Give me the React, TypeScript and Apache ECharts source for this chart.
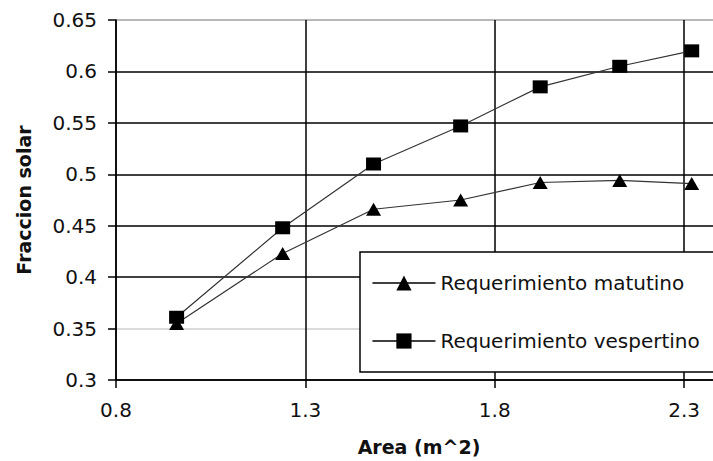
import React, { useEffect, useRef } from "react";
import * as echarts from "echarts";

const areaValues = [0.96, 1.24, 1.48, 1.71, 1.92, 2.13, 2.32];
const matutino = [0.355, 0.423, 0.466, 0.475, 0.492, 0.494, 0.491];
const vespertino = [0.361, 0.448, 0.51, 0.547, 0.585, 0.605, 0.62];
const seriesNames = ["Requerimiento matutino", "Requerimiento vespertino"];
const xAxisName = "Area (m^2)";
const yAxisName = "Fraccion solar";
const xMin = 0.8;
const xMax = 2.4;
const xStep = 0.5;
const yMin = 0.3;
const yMax = 0.65;
const yStep = 0.05;

const FONT = "DejaVu Sans";

export default function App() {
  const ref = useRef<HTMLDivElement>(null);
  useEffect(() => {
    if (!ref.current) return;
    const chart = echarts.init(ref.current, undefined, { renderer: "svg" });
    const axisLine = { show: true, lineStyle: { color: "#000", width: 1.5 } };
    const axisTick = { show: true, inside: false, length: 8, lineStyle: { color: "#000", width: 1.5 } };
    chart.setOption({
      animation: false,
      backgroundColor: "#fff",
      grid: {
        left: 116,
        top: 20,
        width: 606,
        height: 360,
        containLabel: false,
        outerBoundsMode: "none",
      },
      legend: {
        orient: "vertical",
        left: 360,
        top: 252,
        padding: [21, 30, 21, 11.7],
        itemGap: 38,
        itemWidth: 63,
        itemHeight: 19,
        backgroundColor: "#fff",
        borderColor: "#000",
        borderWidth: 1.5,
        borderRadius: 0,
        data: seriesNames,
        textStyle: { fontFamily: FONT, fontSize: 20, color: "#111" },
        lineStyle: { color: "#000", width: 1.5 },
      },
      xAxis: {
        type: "value",
        min: xMin,
        max: xMax,
        interval: xStep,
        axisLine,
        axisTick,
        axisLabel: {
          margin: 20,
          fontFamily: FONT,
          fontSize: 20,
          color: "#111",
          showMaxLabel: false,
          formatter: (v: number) => String(parseFloat(v.toFixed(2))),
        },
        splitLine: { show: true, lineStyle: { color: "#000", width: 1.5 } },
        name: xAxisName,
        nameLocation: "middle",
        nameGap: 57,
        nameTextStyle: { fontFamily: FONT, fontSize: 19, fontWeight: "bold", color: "#111" },
      },
      yAxis: {
        type: "value",
        min: yMin,
        max: yMax,
        interval: yStep,
        axisLine,
        axisTick,
        axisLabel: {
          margin: 19,
          fontFamily: FONT,
          fontSize: 20,
          color: "#111",
          formatter: (v: number) => String(parseFloat(v.toFixed(2))),
        },
        splitLine: {
          show: true,
          lineStyle: {
            color: ["#000", "#cfcfcf", "#000", "#000", "#000", "#000", "#000", "#a0a0a0"],
            width: 1.5,
          },
        },
        name: yAxisName,
        nameLocation: "middle",
        nameGap: 83,
        nameTextStyle: { fontFamily: FONT, fontSize: 19, fontWeight: "bold", color: "#111" },
      },
      series: [
        {
          name: seriesNames[0],
          type: "line",
          data: areaValues.map((x, i) => [x, matutino[i]]),
          symbol: "triangle",
          symbolSize: [15, 13],
          itemStyle: { color: "#000" },
          lineStyle: { color: "#333", width: 1.2 },
        },
        {
          name: seriesNames[1],
          type: "line",
          data: areaValues.map((x, i) => [x, vespertino[i]]),
          symbol: "rect",
          symbolSize: [15, 13],
          itemStyle: { color: "#000" },
          lineStyle: { color: "#333", width: 1.2 },
        },
      ],
    });
    return () => chart.dispose();
  }, []);
  return (
    <div
      ref={ref}
      style={{ position: "fixed", left: 0, top: 0, width: 713, height: 461, background: "#fff" }}
    />
  );
}
